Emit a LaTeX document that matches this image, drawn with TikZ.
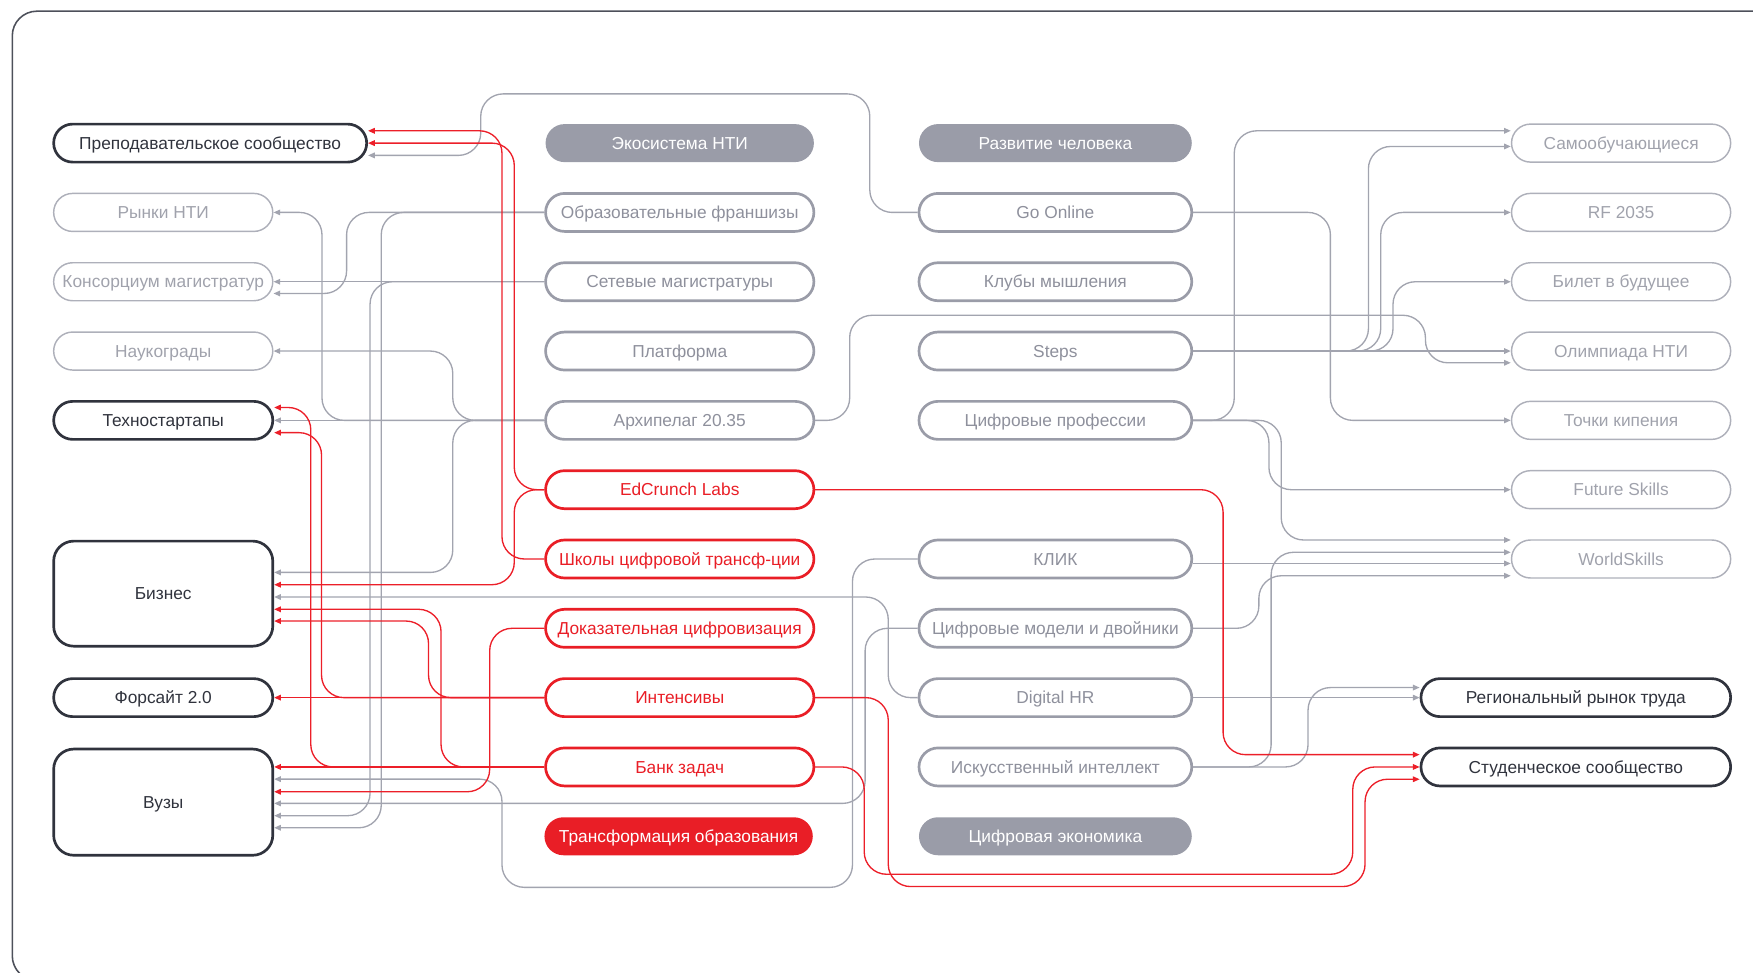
\documentclass[tikz,border=0pt]{standalone}
\usepackage{fontspec}
\setmainfont{Liberation Sans}
\usepackage{tikz}
\usetikzlibrary{arrows.meta, calc}

\definecolor{ink}{HTML}{30333D}
\definecolor{framecol}{HTML}{4D505A}
\definecolor{nodegray}{HTML}{9A9CA8}
\definecolor{graytext}{HTML}{8E909C}
\definecolor{lightline}{HTML}{AEB0BA}
\definecolor{lighttext}{HTML}{A0A2AC}
\definecolor{nodered}{HTML}{E91E26}
\definecolor{wiregray}{HTML}{A2A4AF}
\definecolor{wirered}{HTML}{EC1F29}

\tikzset{
  pill/.style={rectangle, rounded corners=17pt, minimum height=34pt, inner sep=0pt,
    text height=11pt, text depth=0pt, font=\fontsize{15.5}{18}\selectfont},
  darkbox/.style={pill, draw=ink, line width=2.4pt, text=ink},
  lightbox/.style={pill, draw=lightline, line width=1.3pt, text=lighttext, minimum width=196pt},
  graybox/.style={pill, draw=nodegray, line width=2.4pt, text=graytext},
  redbox/.style={pill, draw=nodered, line width=2.4pt, text=nodered, minimum width=240pt},
  grayhub/.style={pill, fill=nodegray, text=white},
  redhub/.style={pill, fill=nodered, text=white, minimum width=240pt},
  gwire/.style={draw=wiregray, line width=1.2pt, rounded corners=20pt,
    -{Triangle[length=6pt,width=5pt]}},
  rwire/.style={gwire, draw=wirered},
}

\begin{document}
\begin{tikzpicture}[x=1pt, y=-1pt]
      \useasboundingbox (0,0) rectangle (1568,870);
      \clip (0,0) rectangle (1568,870);
      \draw[framecol, line width=1.4pt, rounded corners=22pt] (11,10) rectangle (1600,877);

      % left column
      \node[darkbox, minimum width=280pt] (prep) at (188,128) {Преподавательское сообщество};
      \node[lightbox] (rynki) at (146,190) {Рынки НТИ};
      \node[lightbox] (kons) at (146,252) {Консорциум магистратур};
      \node[lightbox] (nauk) at (146,314) {Наукограды};
      \node[darkbox, minimum width=196pt] (tech) at (146,376) {Техностартапы};
      \node[darkbox, minimum width=196pt, minimum height=94pt, rounded corners=18pt] (biz) at (146,531) {Бизнес};
      \node[darkbox, minimum width=196pt] (fors) at (146,624) {Форсайт 2.0};
      \node[darkbox, minimum width=196pt, minimum height=95pt, rounded corners=18pt] (vuzy) at (146,717.5) {Вузы};

      % education
      \node[grayhub, minimum width=240pt] (eco) at (608,128) {Экосистема НТИ};
      \node[graybox, minimum width=240pt] (obr) at (608,190) {Образовательные франшизы};
      \node[graybox, minimum width=240pt] (set) at (608,252) {Сетевые магистратуры};
      \node[graybox, minimum width=240pt] (plat) at (608,314) {Платформа};
      \node[graybox, minimum width=240pt] (arch) at (608,376) {Архипелаг 20.35};
      \node[redbox] (edc) at (608,438) {EdCrunch Labs};
      \node[redbox] (sch) at (608,500) {Школы цифровой трансф-ции};
      \node[redbox] (dok) at (608,562) {Доказательная цифровизация};
      \node[redbox] (int) at (608,624) {Интенсивы};
      \node[redbox] (bank) at (608,686) {Банк задач};
      \node[redhub] (trans) at (607,748) {Трансформация образования};

      % human / economy
      \node[grayhub, minimum width=244pt] (razv) at (944,128) {Развитие человека};
      \node[graybox, minimum width=244pt] (goon) at (944,190) {Go Online};
      \node[graybox, minimum width=244pt] (club) at (944,252) {Клубы мышления};
      \node[graybox, minimum width=244pt] (steps) at (944,314) {Steps};
      \node[graybox, minimum width=244pt] (prof) at (944,376) {Цифровые профессии};
      \node[graybox, minimum width=244pt] (klik) at (944,500) {КЛИК};
      \node[graybox, minimum width=244pt] (mod) at (944,562) {Цифровые модели и двойники};
      \node[graybox, minimum width=244pt] (dhr) at (944,624) {Digital HR};
      \node[graybox, minimum width=244pt] (ai) at (944,686) {Искусственный интеллект};
      \node[grayhub, minimum width=244pt] (econ) at (944,748) {Цифровая экономика};

      % right column
      \node[lightbox] (samo) at (1450,128) {Самообучающиеся};
      \node[lightbox] (rf) at (1450,190) {RF 2035};
      \node[lightbox] (bilet) at (1450,252) {Билет в будущее};
      \node[lightbox] (olymp) at (1450,314) {Олимпиада НТИ};
      \node[lightbox] (tochki) at (1450,376) {Точки кипения};
      \node[lightbox] (fs) at (1450,438) {Future Skills};
      \node[lightbox] (ws) at (1450,500) {WorldSkills};
      \node[darkbox, minimum width=277pt] (reg) at (1409.5,624) {Региональный рынок труда};
      \node[darkbox, minimum width=277pt] (stud) at (1409.5,686) {Студенческое сообщество};

      % gray links, left side
      \draw[gwire] (goon.west) -| (778,84) -| (430,139) -- ($(prep.east)+(0,11)$);
      \draw[gwire] (arch.west) -| (288,190) -- (rynki.east);
      \draw[gwire] (arch.west) -| (405,314) -- (nauk.east);
      \draw[gwire] (arch.west) -- (tech.east);
      \draw[gwire] (arch.west) -| (405,512) -- ($(biz.east)+(0,-19)$);
      \draw[gwire] (obr.west) -| (310,262.5) -- ($(kons.east)+(0,10.5)$);
      \draw[gwire] (obr.west) -| (341,740.4) -- ($(vuzy.east)+(0,22.9)$);
      \draw[gwire] (set.west) -- (kons.east);
      \draw[gwire] (set.west) -| (331,729.6) -- ($(vuzy.east)+(0,12.1)$);
      \draw[gwire] (klik.west) -| (762.5,793.7) -| (449,696.9) -- ($(vuzy.east)+(0,-20.6)$);
      \draw[gwire] (mod.west) -| (773.8,718.6) -- ($(vuzy.east)+(0,1.1)$);
      \draw[gwire] (dhr.west) -| (794.5,534) -- ($(biz.east)+(0,3)$);

      % gray links, right side
      \draw[gwire] (arch.east) -| (760,282) -| (1275,324.5) -- ($(olymp.west)+(0,10.5)$);
      \draw[gwire] (steps.east) -| (1224,131) -- ($(samo.west)+(0,3)$);
      \draw[gwire] (steps.east) -| (1235,190) -- (rf.west);
      \draw[gwire] (steps.east) -| (1246,252) -- (bilet.west);
      \draw[gwire] (steps.east) -- (olymp.west);
      \draw[gwire] (prof.east) -| (1104,117) -- ($(samo.west)+(0,-11)$);
      \draw[gwire] (prof.east) -| (1135,438) -- (fs.west);
      \draw[gwire] (prof.east) -| (1146,483) -- ($(ws.west)+(0,-17)$);
      \draw[gwire] (goon.east) -| (1190,376) -- (tochki.west);
      \draw[gwire] ($(klik.east)+(0,4)$) -- ($(ws.west)+(0,4)$);
      \draw[gwire] (mod.east) -| (1126,515) -- ($(ws.west)+(0,15)$);
      \draw[gwire] (ai.east) -| (1137,494) -- ($(ws.west)+(0,-6)$);
      \draw[gwire] (ai.east) -| (1170,615) -- ($(reg.west)+(0,-9)$);
      \draw[gwire] (dhr.east) -- (reg.west);

      % red links
      \draw[rwire] (sch.west) -| (449,117) -- ($(prep.east)+(0,-11)$);
      \draw[rwire] (edc.west) -| (460,128) -- (prep.east);
      \draw[rwire] (edc.west) -| (460,523) -- ($(biz.east)+(0,-8)$);
      \draw[rwire] (dok.west) -| (438,708.2) -- ($(vuzy.east)+(0,-9.3)$);
      \draw[rwire] (int.west) -- (fors.east);
      \draw[rwire] (int.west) -| (287.6,387) -- ($(tech.east)+(0,11)$);
      \draw[rwire] (int.west) -| (383.3,555.5) -- ($(biz.east)+(0,24.5)$);
      \draw[rwire] (bank.west) -- ($(vuzy.east)+(0,-31.5)$);
      \draw[rwire] (bank.west) -| (278,364.5) -- ($(tech.east)+(0,-11.5)$);
      \draw[rwire] (bank.west) -| (394.5,545) -- ($(biz.east)+(0,14)$);
      \draw[rwire] (edc.east) -| (1094,675) -- ($(stud.west)+(0,-11)$);
      \draw[rwire] (bank.east) -| (773,782) -| (1210,686) -- (stud.west);
      \draw[rwire] (int.east) -| (794.5,793) -| (1221,697) -- ($(stud.west)+(0,11)$);

    \end{tikzpicture}
\end{document}
